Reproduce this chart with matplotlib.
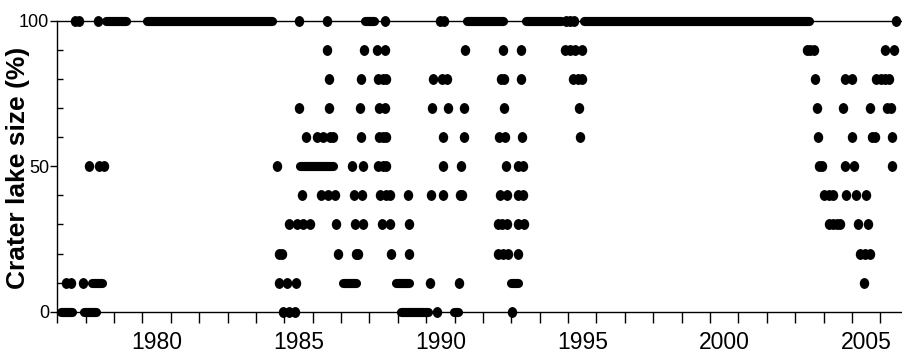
import matplotlib.pyplot as plt
from matplotlib.path import Path
from matplotlib.transforms import Affine2D
from matplotlib.ticker import FixedLocator, MultipleLocator

# observation dates (decimal year) for each lake size level (%)
dots_100 = [1977.64, 1977.76, 1978.43, 1985.52, 1986.52, 1988.54, 1990.50, 1990.64,
            1994.93, 1995.08, 1995.22, 2006.56]
dots_90 = [1986.52, 1987.81, 1988.25, 1988.54, 1991.37, 1992.69, 1993.33, 1994.89,
           1995.07, 1995.24, 1995.48, 2003.41, 2003.53, 2003.65, 2006.17, 2006.47]
dots_80 = [1986.57, 1987.70, 1988.29, 1988.48, 1988.58, 1990.25, 1990.56, 1990.75,
           1992.64, 1992.74, 1993.35, 1995.18, 1995.36, 1995.50, 2003.70, 2004.76,
           2005.00, 2005.86, 2006.01, 2006.18, 2006.32]
dots_70 = [1985.51, 1986.57, 1987.66, 1988.33, 1988.54, 1990.19, 1990.78, 1991.34,
           1992.75, 1995.40, 2003.77, 2004.67, 2005.65, 2006.22, 2006.38]
dots_60 = [1985.78, 1986.14, 1986.37, 1986.60, 1986.72, 1987.72, 1988.34, 1988.48,
           1988.60, 1990.58, 1991.32, 1992.57, 1992.77, 1993.36, 1995.42, 2003.80,
           2005.01, 2005.71, 2005.83, 2006.43]
dots_50 = [1978.12, 1978.47, 1978.64, 1984.75, 1987.39, 1987.76, 1988.31, 1988.48,
           1988.60, 1990.58, 1991.21, 1992.80, 1993.24, 1993.42, 2003.83, 2003.95,
           2004.76, 2005.06, 2006.43]
dots_40 = [1985.61, 1986.29, 1986.55, 1986.78, 1987.45, 1987.74, 1988.37, 1988.60,
           1988.72, 1989.37, 1990.16, 1990.58, 1991.19, 1991.25, 1992.60, 1992.83,
           1993.24, 1993.42, 2004.02, 2004.20, 2004.34, 2004.80, 2005.15, 2005.50]
dots_30 = [1985.17, 1985.43, 1985.66, 1985.90, 1986.82, 1987.49, 1987.76, 1988.43,
           1988.72, 1989.39, 1992.54, 1992.68, 1992.83, 1993.24, 1993.44, 2004.18,
           2004.35, 2004.47, 2004.59, 2005.21, 2005.56]
dots_20 = [1984.82, 1984.92, 1986.90, 1987.52, 1987.60, 1988.76, 1989.39, 1992.54,
           1992.72, 1992.89, 1993.24, 2005.29, 2005.47, 2005.64]
dots_10 = [1977.32, 1977.50, 1977.91, 1984.82, 1985.10, 1985.41, 1990.13, 1991.16,
           2005.43]
dots_0 = [1984.96, 1985.17, 1985.38, 1990.38, 1993.04]

# periods of near-continuous observations (start, end)
runs_100 = [(1978.70, 1979.41), (1980.16, 1984.58), (1987.86, 1988.17),
            (1991.45, 1992.69), (1993.50, 1994.75), (1995.56, 2003.50)]
runs_50 = [(1985.55, 1986.72)]
runs_10 = [(1978.22, 1978.59), (1987.07, 1987.52), (1988.92, 1989.40), (1992.99, 1993.24)]
runs_0 = [(1977.14, 1977.52), (1977.93, 1978.35), (1989.10, 1990.05), (1990.98, 1991.11)]

levels = [100, 90, 80, 70, 60, 50, 40, 30, 20, 10, 0]
dots = [dots_100, dots_90, dots_80, dots_70, dots_60, dots_50, dots_40, dots_30,
        dots_20, dots_10, dots_0]
runs = {100: runs_100, 50: runs_50, 10: runs_10, 0: runs_0}

year_labels = [1980, 1985, 1990, 1995, 2000, 2005]

fig = plt.figure(figsize=(9.02, 3.56), dpi=100)
ax = fig.add_axes([0.0635, 0.1244, 0.936, 0.8175])

# slightly tall ellipse, like the scanned dots
circ = Path.unit_circle()
dot = circ.transformed(Affine2D().scale(0.85, 1.0))

for lev, xs in zip(levels, dots):
    ax.plot(xs, [lev] * len(xs), ls='none', marker=dot, ms=6.8, color='black',
            mec='black', clip_on=False, zorder=3)

for lev, rr in runs.items():
    for a, b in rr:
        ax.plot([a, b], [lev, lev], color='black', lw=6.6, solid_capstyle='round',
                clip_on=False, zorder=3)

ax.set_xlim(1977.0, 2006.75)
ax.set_ylim(0, 100)

for s in ['left', 'top', 'bottom']:
    ax.spines[s].set_linewidth(1.0)
ax.spines['right'].set_visible(False)

# year boundary ticks, labels centred on each year
ax.xaxis.set_minor_locator(MultipleLocator(1))
ax.xaxis.set_major_locator(FixedLocator([y + 0.5 for y in year_labels]))
ax.set_xticklabels([str(y) for y in year_labels])
ax.tick_params(axis='x', which='major', length=0, pad=14, labelsize=16.5)
ax.tick_params(axis='x', which='minor', length=8, width=1.0, direction='out')

ax.set_yticks([0, 50, 100])
ax.yaxis.set_minor_locator(MultipleLocator(10))
ax.tick_params(axis='y', which='major', length=5, width=1.0, direction='out',
               labelsize=13, pad=1)
ax.tick_params(axis='y', which='minor', length=4, width=1.0, direction='in')

for lab in ax.get_xticklabels() + ax.get_yticklabels():
    lab.set_family(['Liberation Sans', 'DejaVu Sans'])

fig.text(18 / 902, 1 - 168 / 356, 'Crater lake size (%)', rotation=90,
         ha='center', va='center', fontsize=19, fontweight='bold',
         family=['Liberation Sans', 'DejaVu Sans'])

fig.savefig('out.png', dpi=100)
